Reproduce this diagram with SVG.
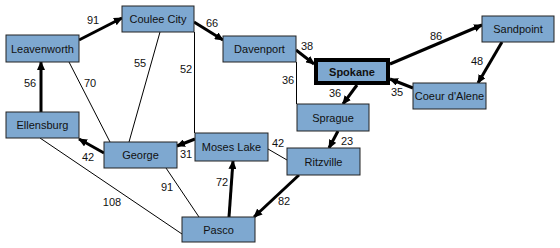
<svg xmlns="http://www.w3.org/2000/svg" width="560" height="248" viewBox="0 0 560 248">
<style>
.n rect{fill:#7ea8d0;stroke:#222;stroke-width:1}
.n text{font-family:"Liberation Sans",Arial,sans-serif;font-size:11px;fill:#111;text-anchor:middle}
.e line{stroke:#000}
.thin{stroke-width:1}
.thick{stroke-width:3;marker-end:url(#ah)}
.lbl{font-family:"Liberation Sans",Arial,sans-serif;font-size:11px;fill:#111;text-anchor:middle}
</style>
<defs>
<marker id="ah" markerUnits="userSpaceOnUse" markerWidth="9" markerHeight="8" viewBox="0 0 9 8" refX="8" refY="4" orient="auto">
<path d="M0,0 L9,4 L0,8 z" fill="#000"/>
</marker>
</defs>
<rect width="560" height="248" fill="#fff"/>
<g id="connectors" class="e">
<line class="thin" x1="69" y1="62" x2="110" y2="142"/>
<line class="thin" x1="160" y1="32" x2="129" y2="142"/>
<line class="thin" x1="194.5" y1="32" x2="194.5" y2="133"/>
<line class="thin" x1="40" y1="138" x2="182" y2="234"/>
<line class="thin" x1="166" y1="168" x2="199" y2="217"/>
<line class="thin" x1="268" y1="149" x2="287" y2="160"/>
<line class="thin" x1="296.5" y1="62" x2="296.5" y2="104"/>
<line class="thick" x1="79" y1="40" x2="122" y2="18"/>
<line class="thick" x1="194" y1="22" x2="223" y2="40"/>
<line class="thick" x1="41" y1="112" x2="41" y2="62"/>
<line class="thick" x1="195" y1="139" x2="177" y2="146"/>
<line class="thick" x1="104" y1="153" x2="79" y2="139"/>
<line class="thick" x1="229" y1="217" x2="233" y2="161"/>
<line class="thick" x1="299" y1="175" x2="254" y2="217"/>
<line class="thick" x1="338" y1="131" x2="329" y2="148"/>
<line class="thick" x1="296" y1="50" x2="314" y2="64"/>
<line class="thick" x1="357" y1="85" x2="343" y2="104"/>
<line class="thick" x1="390" y1="64" x2="482" y2="25"/>
<line class="thick" x1="502" y1="42" x2="478" y2="83"/>
<line class="thick" x1="413" y1="88" x2="390" y2="79"/>
<text class="lbl" x="93" y="24">91</text>
<text class="lbl" x="212" y="27">66</text>
<text class="lbl" x="30" y="87">56</text>
<text class="lbl" x="90" y="87">70</text>
<text class="lbl" x="140" y="67">55</text>
<text class="lbl" x="186" y="73">52</text>
<text class="lbl" x="186" y="158">31</text>
<text class="lbl" x="88" y="161">42</text>
<text class="lbl" x="112" y="206">108</text>
<text class="lbl" x="167" y="191">91</text>
<text class="lbl" x="222" y="186">72</text>
<text class="lbl" x="284" y="205">82</text>
<text class="lbl" x="278" y="147">42</text>
<text class="lbl" x="347" y="145">23</text>
<text class="lbl" x="307" y="50">38</text>
<text class="lbl" x="288" y="84">36</text>
<text class="lbl" x="335" y="97">36</text>
<text class="lbl" x="436" y="40">86</text>
<text class="lbl" x="477" y="65">48</text>
<text class="lbl" x="397" y="96">35</text>
</g>
<g id="leavenworth" class="n"><rect x="6" y="35" width="73" height="27"/><text x="42.5" y="52.5">Leavenworth</text></g>
<g id="coulee-city" class="n"><rect x="122" y="6" width="72" height="26"/><text x="158" y="23">Coulee City</text></g>
<g id="davenport" class="n"><rect x="223" y="36" width="73" height="26"/><text x="259.5" y="53">Davenport</text></g>
<g id="spokane" class="n"><rect x="316" y="60" width="72" height="23" style="stroke:#000;stroke-width:4"/><text x="352" y="75.5" font-weight="bold">Spokane</text></g>
<g id="sandpoint" class="n"><rect x="482" y="16" width="72" height="26"/><text x="518" y="33">Sandpoint</text></g>
<g id="coeur-dalene" class="n"><rect x="413" y="83" width="73" height="26"/><text x="449.5" y="100">Coeur d'Alene</text></g>
<g id="sprague" class="n"><rect x="297" y="104" width="72" height="27"/><text x="333" y="121.5">Sprague</text></g>
<g id="ritzville" class="n"><rect x="287" y="148" width="73" height="27"/><text x="323.5" y="165.5">Ritzville</text></g>
<g id="moses-lake" class="n"><rect x="195" y="133" width="73" height="28"/><text x="231.5" y="151">Moses Lake</text></g>
<g id="george" class="n"><rect x="104" y="142" width="73" height="26"/><text x="140.5" y="159">George</text></g>
<g id="ellensburg" class="n"><rect x="6" y="112" width="73" height="26"/><text x="42.5" y="129">Ellensburg</text></g>
<g id="pasco" class="n"><rect x="182" y="217" width="73" height="25"/><text x="218.5" y="233.5">Pasco</text></g>
</svg>
